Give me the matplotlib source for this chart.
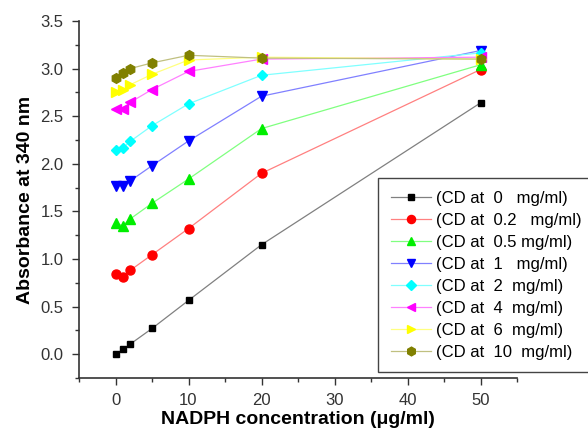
import matplotlib
matplotlib.use("Agg")
import matplotlib.pyplot as plt
from matplotlib.ticker import MultipleLocator

plt.rcParams['font.family'] = ['Liberation Sans', 'DejaVu Sans']

nadph = [0, 1, 2, 5, 10, 20, 50]
labels = ["(CD at  0   mg/ml)", "(CD at  0.2   mg/ml)", "(CD at  0.5 mg/ml)",
          "(CD at  1   mg/ml)", "(CD at  2  mg/ml)", "(CD at  4  mg/ml)",
          "(CD at  6  mg/ml)", "(CD at  10  mg/ml)"]
cd0 = [0.00, 0.05, 0.105, 0.27, 0.565, 1.15, 2.64]
cd02 = [0.84, 0.81, 0.88, 1.045, 1.32, 1.90, 2.99]
cd05 = [1.375, 1.35, 1.42, 1.585, 1.84, 2.37, 3.04]
cd1 = [1.77, 1.77, 1.82, 1.98, 2.24, 2.71, 3.19]
cd2 = [2.15, 2.165, 2.235, 2.40, 2.63, 2.93, 3.165]
cd4 = [2.575, 2.575, 2.645, 2.78, 2.97, 3.10, 3.12]
cd6 = [2.75, 2.77, 2.83, 2.94, 3.09, 3.12, 3.10]
cd10 = [2.90, 2.95, 3.00, 3.06, 3.14, 3.11, 3.10]
series = [cd0, cd02, cd05, cd1, cd2, cd4, cd6, cd10]

marker_colors = ['black', 'red', '#00ee00', 'blue', '#00ffff', '#ff00ff', '#ffff00', '#808000']
line_colors = ['#808080', '#ff8080', '#80ff80', '#8080ff', '#80ffff', '#ff80ff', '#ffff80', '#c0c080']
markers = ['s', 'o', '^', 'v', 'D', '<', '>', 'h']
msizes = [5, 6.5, 7, 7, 5.5, 7, 7, 7]

fig = plt.figure(figsize=(5.88, 4.33), dpi=100)
ax = fig.add_axes([79/588, 1-378/433, (517-79)/588, (378-21)/433])

for s, lab, mc, lc, m, ms in zip(series, labels, marker_colors, line_colors, markers, msizes):
    ax.plot(nadph, s, color=lc, lw=0.9, marker=m, markersize=ms,
            markerfacecolor=mc, markeredgecolor=mc, label=lab)

ax.set_xlim(-5, 55)
ax.set_ylim(-0.25, 3.5)
ax.xaxis.set_minor_locator(MultipleLocator(5))
ax.yaxis.set_major_locator(MultipleLocator(0.5))
ax.yaxis.set_minor_locator(MultipleLocator(0.25))
ax.set_xticks([0, 10, 20, 30, 40, 50])
ax.set_xticklabels(['0', '10', '20', '30', '40', '50'])
ax.spines['top'].set_visible(False)
ax.spines['right'].set_visible(False)
for sp in ['left', 'bottom']:
    ax.spines[sp].set_color('#333333')
    ax.spines[sp].set_linewidth(1.2)
ax.tick_params(which='major', direction='out', length=5, width=1.0, labelsize=12,
               colors='#333333', pad=6)
ax.tick_params(which='minor', direction='out', length=3, width=1.0, colors='#333333')
ax.set_xlabel('NADPH concentration (\u03bcg/ml)', fontsize=14, fontweight='bold', labelpad=2)
ax.set_ylabel('Absorbance at 340 nm', fontsize=14, fontweight='bold', labelpad=5)

leg = fig.legend(loc='upper left', bbox_to_anchor=(378/588, 1-178/433), fontsize=12,
                 frameon=True, fancybox=False, edgecolor='#444444', framealpha=1,
                 handlelength=2.4, labelspacing=0.42, borderpad=0.75, handletextpad=0.35,
                 borderaxespad=0, markerscale=0.9)
leg.get_frame().set_linewidth(1.0)

fig.savefig('out.png', dpi=100)
